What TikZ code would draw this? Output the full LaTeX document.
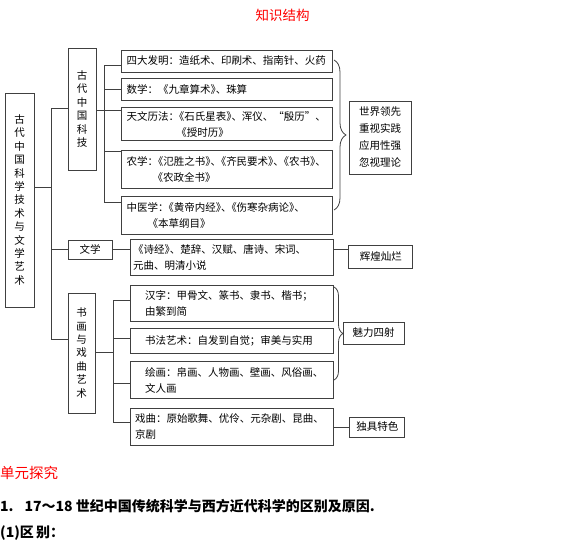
\documentclass[tikz,border=0pt]{standalone}
\usepackage{fontspec}
\setmainfont{Noto Sans CJK SC}
\usetikzlibrary{positioning,decorations.pathreplacing}

\newcommand\halfk{\kern-.5em}

\begin{document}
\begin{tikzpicture}[
  x=1pt, y=-1pt,
  font=\fontsize{10.5}{16}\selectfont,
  box/.style={rectangle, draw=black!75, line width=0.8pt, inner sep=0pt},
  vbox/.style={box, align=center, font=\fontsize{10.5}{13.4}\selectfont},
  ibox/.style={box, align=left, text width=201pt, inner xsep=5pt},
  sbox/.style={box, align=left, text width=193pt, inner xsep=5pt},
  sumbox/.style={box, align=center},
  conn/.style={draw=black!75, line width=0.8pt},
  brc/.style={conn, decorate, decoration={brace, amplitude=#1}}
]
\useasboundingbox (0,0) rectangle (566,543);

\node[text=red, font=\fontsize{13.5}{16}\selectfont] (title) at (282.5,15) {知识结构};

\node[vbox, minimum width=29pt, minimum height=214pt] (root) at (19.5,200) {古\\代\\中\\国\\科\\学\\技\\术\\与\\文\\学\\艺\\术};
\node[vbox, minimum width=28pt, minimum height=122pt] (keji) at (82,109) {古\\代\\中\\国\\科\\技};
\node[box, minimum width=44pt, minimum height=19pt] (wenxue) at (90,249.5) {文学};
\node[vbox, minimum width=27pt, minimum height=120pt] (shuhua) at (81.5,353) {书\\画\\与\\戏\\曲\\艺\\术};

\node[ibox, minimum height=22pt] (fm) at (227,61) {四大发明：造纸术、印刷术、指南针、火药};
\node[ibox, minimum height=22pt, below=6pt of fm] (sx) {数学：《九章算术》\halfk、珠算};
\node[ibox, minimum height=33pt, below=6pt of sx] (tw) {天文历法：\halfk《石氏星表》\halfk、浑仪、“殷历”、\\\hspace*{50pt}《授时历》};
\node[ibox, minimum height=38pt, below=9pt of tw] (nx) {农学：\halfk《氾胜之书》\halfk、\halfk《齐民要术》\halfk、\halfk《农书》\halfk、\\\hspace*{26pt}《农政全书》};
\node[ibox, minimum height=38pt, below=7pt of nx] (zy) {中医学：\halfk《黄帝内经》\halfk、\halfk《伤寒杂病论》\halfk、\\\hspace*{21pt}《本草纲目》};

\node[sbox, inner xsep=3pt, text width=197pt, minimum height=36pt] (wx) at (231.5,257) {《诗经》\halfk、楚辞、汉赋、唐诗、宋词、\\元曲、明清小说};

\node[sbox, inner xsep=15pt, text width=173pt, minimum height=36pt] (hz) at (231.5,303) {汉字：甲骨文、篆书、隶书、楷书；\\由繁到简};
\node[sbox, inner xsep=15pt, text width=173pt, minimum height=25pt, below=7pt of hz] (sf) {书法艺术：自发到自觉；审美与实用};
\node[sbox, inner xsep=15pt, text width=173pt, minimum height=37pt, below=7pt of sf] (hh) {绘画：帛画、人物画、壁画、风俗画、\\文人画};
\node[sbox, minimum height=37pt, below=9pt of hh] (xq) {戏曲：原始歌舞、优伶、元杂剧、昆曲、\\京剧};

\node[sumbox, minimum width=62pt, minimum height=73pt, font=\fontsize{10.5}{17}\selectfont] (lx) at (380,137.5) {世界领先\\重视实践\\应用性强\\忽视理论};
\node[sumbox, minimum width=64pt, minimum height=23pt, right=15pt of wx] (hhcl) {辉煌灿烂};
\node[sumbox, minimum width=61pt, minimum height=22pt] (ml) at (373.5,333) {魅力四射};
\node[sumbox, minimum width=55pt, minimum height=20pt, right=16pt of xq] (ds) {独具特色};

\coordinate (m0) at (51,187);
\coordinate (m1) at (51,108);
\coordinate (m3) at (51,339);
\draw[conn] (m0 -| root.east) -- (m0);
\draw[conn] (m1 -| keji.west) -- (m1) -- (m3) -- (m3 -| shuhua.west);
\draw[conn] (wenxue.west -| m1) -- (wenxue.west);

\coordinate (k1) at (104,65);
\coordinate (k3) at (104,110);
\coordinate (k4) at (104,151);
\coordinate (k5) at (104,202);
\draw[conn] (k1 -| fm.west) -- (k1) -- (k5) -- (k5 -| zy.west);
\draw[conn] (sx.west -| k1) -- (sx.west);
\draw[conn] (keji.east |- k3) -- (k3 -| tw.west);
\draw[conn] (k4) -- (k4 -| nx.west);

\draw[conn] (wenxue.east) -- (wenxue.east -| wx.west);
\draw[conn] (wx.east |- wenxue.east) -- (hhcl.west |- wenxue.east);

\coordinate (s1) at (113,300);
\coordinate (s2) at (113,338);
\coordinate (s3) at (113,383);
\coordinate (s4) at (113,422);
\coordinate (sm) at (113,352);
\draw[conn] (s1 -| hz.west) -- (s1) -- (s4) -- (s4 -| xq.west);
\draw[conn] (s2) -- (s2 -| sf.west);
\draw[conn] (s3) -- (s3 -| hh.west);
\draw[conn] (shuhua.east |- sm) -- (sm);
\draw[conn] (xq.east |- ds.west) -- (ds.west);

\coordinate (ba) at (334,60);
\coordinate (bb) at (334,210);
\coordinate (bc) at (334,287);
\coordinate (bd) at (334,380);
\draw[brc=12pt] (ba) -- (bb);
\draw[brc=9pt] (bc) -- (bd);

\node[anchor=west, inner sep=0pt, text=red, font=\fontsize{14.5}{16}\selectfont] (tanjiu) at (0,473) {单元探究};
\node[anchor=west, inner sep=0pt, font=\bfseries\fontsize{14}{16}\selectfont] (q1) at (0,506) {1.\hspace{11pt}17～18 世纪中国传统科学与西方近代科学的区别及原因.};
\node[anchor=west, inner sep=0pt, font=\bfseries\fontsize{14}{16}\selectfont] (q2) at (0,533) {(1)区\,别：};
\end{tikzpicture}
\end{document}
